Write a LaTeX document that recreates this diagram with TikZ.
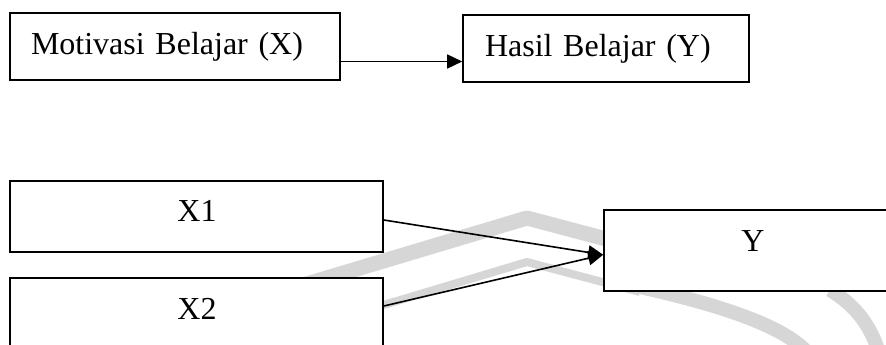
\documentclass[tikz,border=0pt]{standalone}
\usepackage{fontspec}
\setmainfont{Liberation Serif}
\usetikzlibrary{arrows.meta}
\tikzset{
  box/.style={draw=black, fill=white, line width=1.6pt, rectangle, inner sep=0pt},
  lbl/.style={inner sep=0pt, font=\fontsize{32}{38}\selectfont},
  conn/.style={line width=1.6pt, -{Triangle[length=15pt,width=14pt]}},
  wm/.style={draw=black!16, line cap=butt, line join=round}
}
\begin{document}
\begin{tikzpicture}[x=1pt,y=-1pt]
\clip (0,0) rectangle (886,345);
\fill[white] (0,0) rectangle (886,345);
% faint watermark
\draw[wm, line width=15pt] (300,286) -- (527,218) -- (640,248);
\draw[wm, line width=8pt] (300,330) -- (527,262) -- (640,292);
\draw[wm, line width=14pt] (640,287) .. controls (720,305) and (780,325) .. (805,350);
\draw[wm, line width=14pt] (830,290) .. controls (855,305) and (870,325) .. (878,350);
% top diagram
\node[box, minimum width=330pt, minimum height=67pt, text width=288pt, align=left, lbl] (m) at (175,46.5) {Motivasi Belajar (X)};
\node[box, minimum width=286pt, minimum height=67pt, text width=242pt, align=left, lbl] (h) at (606,48.5) {Hasil Belajar (Y)};
\draw[conn] ([yshift=-15pt]m.east) -- ([yshift=-15pt]m.east -| h.west);
% bottom diagram
\node[box, minimum width=373pt, minimum height=71pt] (x1) at (196.5,216.5) {};
\node[box, minimum width=373pt, minimum height=71pt] (x2) at (196.5,313.5) {};
\node[box, minimum width=296pt, minimum height=81pt] (y) at (752,250.75) {};
\node[lbl, anchor=base] (tx1) at (197,221) {X1};
\node[lbl, anchor=base] (tx2) at (197,319) {X2};
\node[lbl, anchor=base] (ty) at (753,251) {Y};
\draw[conn] ([yshift=-3.5pt]x1.east) -- ([yshift=-4pt]y.west);
\draw[conn] ([yshift=7.5pt]x2.east) -- ([yshift=-4pt]y.west);
\end{tikzpicture}
\end{document}
